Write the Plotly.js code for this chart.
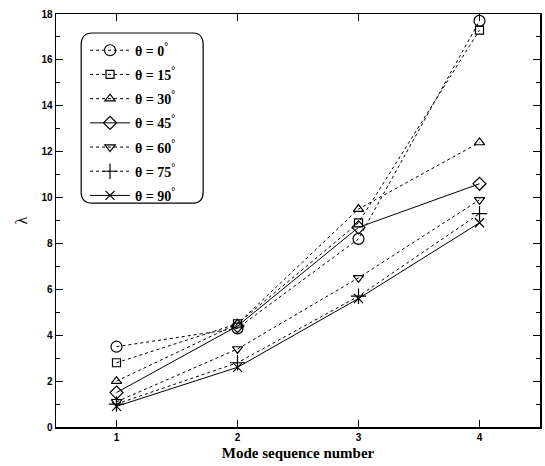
<!DOCTYPE html>
<html><head><meta charset="utf-8">
<script src="https://cdn.plot.ly/plotly-3.0.1.min.js"></script>
<style>html,body{margin:0;padding:0;background:#fff}#chart{width:545px;height:466px}</style>
</head><body><div id="chart"></div>
<script>
const modes = [1, 2, 3, 4];
const seriesNames = ["θ = 0<sup>°</sup>", "θ = 15<sup>°</sup>", "θ = 30<sup>°</sup>", "θ = 45<sup>°</sup>", "θ = 60<sup>°</sup>", "θ = 75<sup>°</sup>", "θ = 90<sup>°</sup>"];
const theta0  = [3.5, 4.3, 8.2, 17.7];
const theta15 = [2.8, 4.5, 8.9, 17.3];
const theta30 = [2.0, 4.5, 9.5, 12.4];
const theta45 = [1.5, 4.4, 8.7, 10.6];
const theta60 = [1.1, 3.4, 6.5, 9.9];
const theta75 = [1.0, 2.8, 5.7, 9.3];
const theta90 = [0.9, 2.6, 5.6, 8.9];
const yTicks = [0, 2, 4, 6, 8, 10, 12, 14, 16, 18];
const xTicks = [1, 2, 3, 4];

const seriesData = [theta0, theta15, theta30, theta45, theta60, theta75, theta90];
const symbols = ["circle-open", "square-open", "triangle-up-open", "diamond-open", "triangle-down-open", "cross-thin-open", "x-thin-open"];
const dashes = ["dot", "dot", "dot", "solid", "dot", "dot", "solid"];
const sizes = [11, 8, 9, 10, 9, 11, 9];

const traces = seriesData.map((ys, i) => ({
  x: modes, y: ys, name: seriesNames[i], legendgroup: "g" + i, type: "scatter", mode: "lines+markers",
  line: {color: "#000", width: 1, dash: dashes[i]},
  marker: {symbol: symbols[i], size: sizes[i], color: "#000", line: {color: "#000", width: 1.2}}
}));

const axisCommon = {
  showline: true, linecolor: "#000", linewidth: 1.5, mirror: "ticks",
  ticks: "inside", tickcolor: "#000", ticklen: 7, tickwidth: 1,
  showgrid: false, zeroline: false,
  tickfont: {family: "Liberation Sans, Arial", size: 10, color: "#000", weight: "bold"}
};

const layout = {
  width: 545, height: 466,
  margin: {l: 56, r: 5, t: 14, b: 39},
  paper_bgcolor: "#fff", plot_bgcolor: "#fff",
  showlegend: true,
  legend: {x: 0.06, y: 0.95, xanchor: "left", yanchor: "top", bgcolor: "rgba(0,0,0,0)", borderwidth: 0,
    font: {family: "Liberation Serif, Times New Roman", size: 14, color: "#000", weight: "bold"}, tracegroupgap: 3, itemwidth: 40},
  xaxis: Object.assign({}, axisCommon, {range: [0.5, 4.5], tickvals: xTicks, ticktext: xTicks.map(String),
    title: {text: "Mode sequence number", standoff: 6, font: {family: "Liberation Serif, Times New Roman", size: 15, color: "#000", weight: "bold"}}}),
  yaxis: Object.assign({}, axisCommon, {range: [0, 18], tickvals: yTicks, ticktext: yTicks.map(String),
    minor: {dtick: 1, ticks: "inside", ticklen: 4, tickcolor: "#000"},
    title: {text: "λ", standoff: 10, font: {family: "Liberation Serif, Times New Roman", size: 16, color: "#000"}}}),
  shapes: [{type: "path", xref: "paper", yref: "paper", layer: "above",
    path: "M 0.075 0.954 L 0.283 0.954 Q 0.304 0.954 0.304 0.925 L 0.304 0.569 Q 0.304 0.542 0.283 0.542 L 0.075 0.542 Q 0.052 0.542 0.052 0.569 L 0.052 0.925 Q 0.052 0.954 0.075 0.954 Z",
    line: {color: "#000", width: 1.2}, fillcolor: "rgba(0,0,0,0)"}]
};

Plotly.newPlot("chart", traces, layout, {displayModeBar: false, staticPlot: true});
</script></body></html>
